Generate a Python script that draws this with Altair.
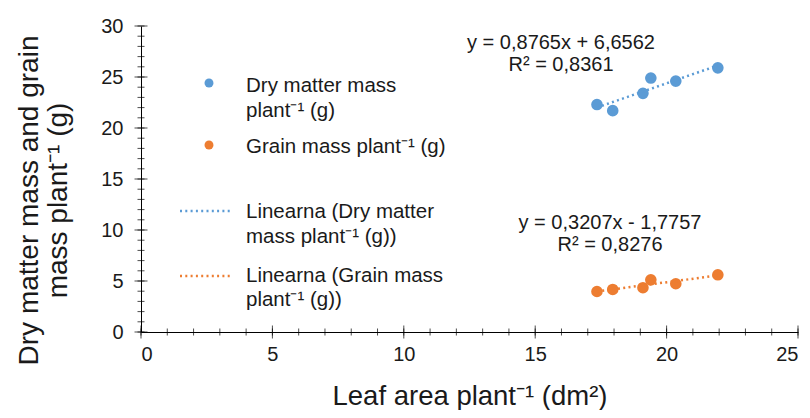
import altair as alt
import pandas as pd

# ---- data ----
leaf_area = [17.35, 17.95, 19.1, 19.4, 20.35, 21.95]
dry_matter = [22.3, 21.7, 23.4, 24.9, 24.6, 25.9]
grain_mass = [3.97, 4.17, 4.34, 5.12, 4.73, 5.61]

series_names = ["Dry matter mass plant⁻¹ (g)", "Grain mass plant⁻¹ (g)"]
colors = ["#5B9BD5", "#ED7D31"]

x_major = [0, 5, 10, 15, 20, 25]
x_minor = list(range(0, 26))
y_major = [0, 5, 10, 15, 20, 25, 30]
y_minor = list(range(0, 31))

eq_dry = ["y = 0,8765x + 6,6562", "R² = 0,8361"]
eq_grain = ["y = 0,3207x - 1,7757", "R² = 0,8276"]

FONT = "Liberation Sans"
TXT = "#1a1a1a"
W, H = 657, 306

df = pd.DataFrame({
    "x": leaf_area * 2,
    "y": dry_matter + grain_mass,
    "series": [series_names[0]] * len(leaf_area) + [series_names[1]] * len(leaf_area),
})

color_scale = alt.Scale(domain=series_names, range=colors)
xs = alt.Scale(domain=[0, 25], nice=False, zero=False)
ys = alt.Scale(domain=[0, 30], nice=False, zero=False)

x_axis = alt.Axis(values=x_major, ticks=False, tickSize=0, grid=False, domainColor="black",
                  labelFont=FONT, labelFontSize=20, labelColor=TXT, labelPadding=12,
                  title="Leaf area plant⁻¹ (dm²)", titleFont=FONT, titleFontSize=27.5,
                  titleFontWeight="normal", titleColor=TXT, titlePadding=18)
y_axis = alt.Axis(values=y_major, ticks=False, tickSize=0, grid=False, domainColor="black",
                  labelFont=FONT, labelFontSize=20, labelColor=TXT, labelPadding=18,
                  title=["Dry matter mass and grain", "mass plant⁻¹ (g)"], titleFont=FONT,
                  titleFontSize=28, titleFontWeight="normal", titleColor=TXT,
                  titlePadding=28, titleLineHeight=29, titleY=174)

base = alt.Chart(df)

points = base.mark_circle(size=135, opacity=1).encode(
    x=alt.X("x:Q", scale=xs, axis=x_axis),
    y=alt.Y("y:Q", scale=ys, axis=y_axis),
    color=alt.Color("series:N", scale=color_scale, legend=None),
)

trend = base.transform_regression("x", "y", groupby=["series"]).mark_line(
    strokeDash=[2, 3.3], strokeWidth=2.5
).encode(
    x=alt.X("x:Q", scale=xs),
    y=alt.Y("y:Q", scale=ys),
    color=alt.Color("series:N", scale=color_scale, legend=None),
)

def ticks(vals, orient, size, chan):
    d = pd.DataFrame({"v": vals})
    m = alt.Chart(d).mark_tick(orient=orient, size=size, thickness=1, color="black")
    if chan == "x":
        return m.encode(x=alt.X("v:Q", scale=xs), y=alt.datum(0))
    return m.encode(y=alt.Y("v:Q", scale=ys), x=alt.datum(0))

tick_layers = [
    ticks(x_major, "vertical", 13, "x"),
    ticks(x_minor, "vertical", 7, "x"),
    ticks(y_major, "horizontal", 13, "y"),
    ticks(y_minor, "horizontal", 7, "y"),
]

# equation labels (pixel positions inside plot area)
eq_df = pd.DataFrame({
    "t": eq_dry + eq_grain,
    "px": [420, 420, 469, 469],
    "py": [17, 39, 197, 219],
})
eq_text = alt.Chart(eq_df).mark_text(font=FONT, fontSize=20, color=TXT, align="center",
                                     baseline="middle").encode(
    x=alt.X("px:Q", scale=None), y=alt.Y("py:Q", scale=None), text="t:N")

# custom legend
leg_pts = pd.DataFrame({"px": [68, 68], "py": [57, 119], "series": series_names})
leg_points = alt.Chart(leg_pts).mark_circle(size=80, opacity=1).encode(
    x=alt.X("px:Q", scale=None), y=alt.Y("py:Q", scale=None),
    color=alt.Color("series:N", scale=color_scale, legend=None))

leg_lines_df = pd.DataFrame({"px": [39, 39], "px2": [92, 92], "py": [185, 250],
                             "series": series_names})
leg_lines = alt.Chart(leg_lines_df).mark_rule(strokeDash=[2, 3.3], strokeWidth=2.5).encode(
    x=alt.X("px:Q", scale=None), x2="px2:Q", y=alt.Y("py:Q", scale=None),
    color=alt.Color("series:N", scale=color_scale, legend=None))

leg_txt_df = pd.DataFrame({
    "t": ["Dry matter mass", "plant⁻¹ (g)", "Grain mass plant⁻¹ (g)",
          "Linearna (Dry matter", "mass plant⁻¹ (g))",
          "Linearna (Grain mass", "plant⁻¹ (g))"],
    "px": [105] * 7,
    "py": [60, 85, 121, 186, 211, 250, 274],
})
leg_text = alt.Chart(leg_txt_df).mark_text(font=FONT, fontSize=20.5, color=TXT, align="left",
                                           baseline="middle").encode(
    x=alt.X("px:Q", scale=None), y=alt.Y("py:Q", scale=None), text="t:N")

chart = alt.layer(
    points, trend, *tick_layers, eq_text, leg_points, leg_lines, leg_text
).properties(
    width=W, height=H,
    autosize=alt.AutoSizeParams(type="none"),
    padding={"left": 133, "top": 18, "right": 4, "bottom": 78},
).configure_view(stroke=None)

chart.save("out.html", embed_options={"renderer": "svg", "actions": False})
